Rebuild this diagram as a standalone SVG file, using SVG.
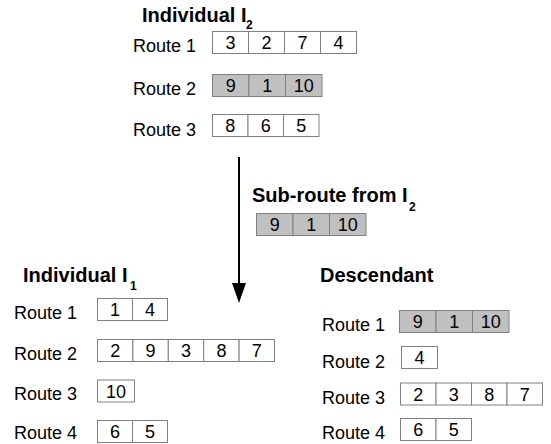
<svg xmlns="http://www.w3.org/2000/svg" width="551" height="444" viewBox="0 0 551 444">
<style>
text{font-family:"Liberation Sans",Arial,sans-serif;fill:#000}
.t{font-size:20px;font-weight:bold}
.s{font-size:12px;font-weight:bold}
.l{font-size:18px}
.d{font-size:18px;text-anchor:middle}
.c{fill:#fff;stroke:#808080;stroke-width:1}
.g{fill:#c0c0c0;stroke:#808080;stroke-width:1}
</style>
<rect width="551" height="444" fill="#fff"/>
<g id="individual-i2">
<text class="t" x="142" y="22">Individual I</text><text class="s" x="246" y="29">2</text>
<g id="i2-route1">
<text class="l" x="133" y="52">Route 1</text>
<rect class="c" x="212.5" y="31.5" width="36" height="22"/><rect class="c" x="248.5" y="31.5" width="36" height="22"/><rect class="c" x="284.5" y="31.5" width="36" height="22"/><rect class="c" x="320.5" y="31.5" width="36" height="22"/>
<text class="d" x="230.5" y="49">3</text><text class="d" x="266.5" y="49">2</text><text class="d" x="302.5" y="49">7</text><text class="d" x="338.5" y="49">4</text>
</g>
<g id="i2-route2">
<text class="l" x="133" y="95">Route 2</text>
<rect class="g" x="212.5" y="74.5" width="36.5" height="22"/><rect class="g" x="249" y="74.5" width="36.5" height="22"/><rect class="g" x="285.5" y="74.5" width="36.5" height="22"/>
<text class="d" x="230.7" y="92">9</text><text class="d" x="267.2" y="92">1</text><text class="d" x="303.7" y="92">10</text>
</g>
<g id="i2-route3">
<text class="l" x="133" y="135.5">Route 3</text>
<rect class="c" x="212.5" y="114.5" width="35.5" height="22"/><rect class="c" x="248" y="114.5" width="35.5" height="22"/><rect class="c" x="283.5" y="114.5" width="35.5" height="22"/>
<text class="d" x="230.2" y="132">8</text><text class="d" x="265.7" y="132">6</text><text class="d" x="301.2" y="132">5</text>
</g>
</g>
<g id="subroute">
<text class="t" x="252" y="202">Sub-route from I</text><text class="s" x="409" y="211">2</text>
<rect class="g" x="256.5" y="213.5" width="36.5" height="22"/><rect class="g" x="293" y="213.5" width="36.5" height="22"/><rect class="g" x="329.5" y="213.5" width="36.5" height="22"/>
<text class="d" x="274.7" y="231">9</text><text class="d" x="311.2" y="231">1</text><text class="d" x="347.7" y="231">10</text>
</g>
<g id="connectors">
<line x1="239" y1="157" x2="239" y2="285" stroke="#000" stroke-width="2"/>
<polygon points="232,283 246,283 239,303" fill="#000"/>
</g>
<g id="individual-i1">
<text class="t" x="23" y="282">Individual I</text><text class="s" x="130" y="290">1</text>
<g id="i1-route1">
<text class="l" x="14" y="319">Route 1</text>
<rect class="c" x="97.5" y="298.5" width="35" height="22"/><rect class="c" x="132.5" y="298.5" width="35" height="22"/>
<text class="d" x="115" y="316">1</text><text class="d" x="150" y="316">4</text>
</g>
<g id="i1-route2">
<text class="l" x="14" y="360">Route 2</text>
<rect class="c" x="97.5" y="339.5" width="35.4" height="22"/><rect class="c" x="132.9" y="339.5" width="35.4" height="22"/><rect class="c" x="168.3" y="339.5" width="35.4" height="22"/><rect class="c" x="203.7" y="339.5" width="35.4" height="22"/><rect class="c" x="239.1" y="339.5" width="35.4" height="22"/>
<text class="d" x="115.2" y="357">2</text><text class="d" x="150.6" y="357">9</text><text class="d" x="186" y="357">3</text><text class="d" x="221.4" y="357">8</text><text class="d" x="256.8" y="357">7</text>
</g>
<g id="i1-route3">
<text class="l" x="14" y="400">Route 3</text>
<rect class="c" x="97.5" y="380" width="37" height="22"/>
<text class="d" x="116" y="397.5">10</text>
</g>
<g id="i1-route4">
<text class="l" x="14" y="439">Route 4</text>
<rect class="c" x="97.5" y="420.5" width="35" height="22"/><rect class="c" x="132.5" y="420.5" width="35" height="22"/>
<text class="d" x="115" y="438">6</text><text class="d" x="150" y="438">5</text>
</g>
</g>
<g id="descendant">
<text class="t" x="320" y="282">Descendant</text>
<g id="d-route1">
<text class="l" x="322" y="331">Route 1</text>
<rect class="g" x="399.5" y="310.5" width="36.5" height="22"/><rect class="g" x="436" y="310.5" width="36.5" height="22"/><rect class="g" x="472.5" y="310.5" width="36.5" height="22"/>
<text class="d" x="417.7" y="328">9</text><text class="d" x="454.2" y="328">1</text><text class="d" x="490.7" y="328">10</text>
</g>
<g id="d-route2">
<text class="l" x="322" y="367.5">Route 2</text>
<rect class="c" x="401.5" y="346.5" width="36" height="22"/>
<text class="d" x="419.5" y="364">4</text>
</g>
<g id="d-route3">
<text class="l" x="322" y="404">Route 3</text>
<rect class="c" x="400.5" y="383" width="35.5" height="22"/><rect class="c" x="436" y="383" width="35.5" height="22"/><rect class="c" x="471.5" y="383" width="35.5" height="22"/><rect class="c" x="507" y="383" width="35.5" height="22"/>
<text class="d" x="418.2" y="400.5">2</text><text class="d" x="453.7" y="400.5">3</text><text class="d" x="489.2" y="400.5">8</text><text class="d" x="524.7" y="400.5">7</text>
</g>
<g id="d-route4">
<text class="l" x="322" y="439">Route 4</text>
<rect class="c" x="400.5" y="418.5" width="35.5" height="22"/><rect class="c" x="436" y="418.5" width="35.5" height="22"/>
<text class="d" x="418.2" y="436">6</text><text class="d" x="453.7" y="436">5</text>
</g>
</g>
</svg>
